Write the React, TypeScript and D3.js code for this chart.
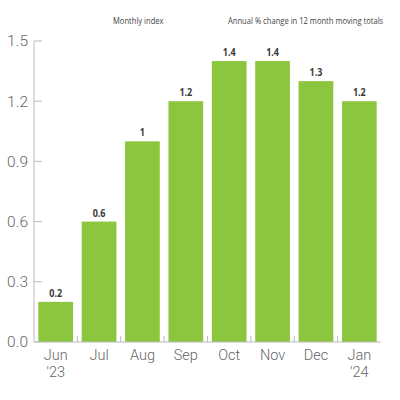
import React from "react";
import * as d3 from "d3";

const months = ["Jun", "Jul", "Aug", "Sep", "Oct", "Nov", "Dec", "Jan"];
const years = ["'23", "", "", "", "", "", "", "'24"];
const values = [0.2, 0.6, 1, 1.2, 1.4, 1.4, 1.3, 1.2];
const yTicks = [0, 0.3, 0.6, 0.9, 1.2, 1.5];

export default function App() {
  const W = 400, H = 400;
  const left = 34, right = 381, top = 41, bottom = 342;
  const x = d3.scaleBand<number>().domain(d3.range(months.length)).range([left, right]).paddingInner(0.2).paddingOuter(0.1);
  const y = d3.scaleLinear().domain([0, 1.5]).range([bottom, top]);
  const step = x.step();
  const narrow = "'Open Sans', sans-serif";
  const light = "Roboto, 'Liberation Sans', Arial, sans-serif";
  return (
    <svg width={W} height={H} style={{ position: "absolute", left: 0, top: 0 }}>
      <rect width={W} height={H} fill="#fff" />
      <g transform="translate(113,24) scale(0.8,1)">
        <text x={0} y={0} fontSize={9.5} fill="#444" fontFamily={narrow}>Monthly index</text>
      </g>
      <g transform="translate(228,24) scale(0.8,1)">
        <text x={0} y={0} fontSize={9.5} fill="#444" fontFamily={narrow}>Annual % change in 12 month moving totals</text>
      </g>
      {values.map((v, i) => {
        const cx = (x(i) as number) + x.bandwidth() / 2;
        return (
          <g key={i}>
            <rect x={x(i)} y={y(v)} width={x.bandwidth()} height={bottom - y(v)} fill="#8cc63f" />
            <g transform={`translate(${cx},${y(v) - 5}) scale(0.82,1)`}>
              <text x={0} y={0} fontSize={11} fontWeight="bold" fill="#3a3a3a" textAnchor="middle" fontFamily={narrow}>{v}</text>
            </g>
          </g>
        );
      })}
      <line x1={left} x2={left} y1={y(1.5)} y2={bottom} stroke="#bbb" strokeWidth={1} />
      <line x1={left} x2={right} y1={bottom} y2={bottom} stroke="#bbb" strokeWidth={1} />
      {yTicks.map((t) => (
        <g key={t}>
          <line x1={left} x2={left + 8} y1={y(t)} y2={y(t)} stroke="#bbb" strokeWidth={1} />
          <text x={left - 6} y={y(t)} dy="0.35em" fontSize={15.5} fontWeight={300} fill="#666" textAnchor="end" fontFamily={light}>{t.toFixed(1)}</text>
        </g>
      ))}
      {months.slice(1).map((_, j) => {
        const i = j + 1;
        const bx = (x(i) as number) - step * 0.1;
        return <line key={i} x1={bx} x2={bx} y1={bottom} y2={bottom - 6} stroke="#bbb" strokeWidth={1} />;
      })}
      {months.map((m, i) => {
        const cx = (x(i) as number) + x.bandwidth() / 2;
        return (
          <g key={m}>
            <text x={cx} y={360} fontSize={14.5} fontWeight={300} fill="#666" textAnchor="middle" fontFamily={light}>{m}</text>
            {years[i] && <text x={cx} y={377} fontSize={14.5} fontWeight={300} fill="#666" textAnchor="middle" fontFamily={light}>{years[i]}</text>}
          </g>
        );
      })}
    </svg>
  );
}
